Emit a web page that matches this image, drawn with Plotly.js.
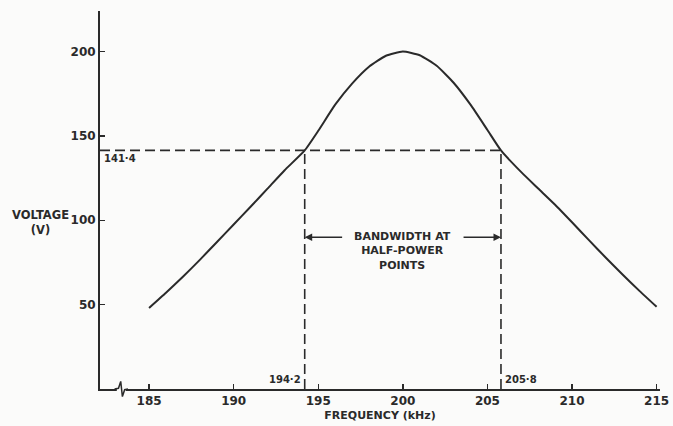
<!DOCTYPE html>
<html><head><meta charset="utf-8">
<script src="https://cdn.plot.ly/plotly-3.0.1.min.js"></script>
<style>html,body{margin:0;padding:0;background:#fbfbfa;}</style>
</head><body>
<div id="chart" style="width:673px;height:426px;"></div>
<script>
// Resonance curve data
const freq = [185, 186, 187, 188, 189, 190, 191, 192, 193, 194.2, 195, 196, 197, 198, 199, 200, 201, 202, 203, 204, 205, 205.8, 207, 208, 209, 210, 211, 212, 213, 214, 215];
const voltage = [48, 57, 66.5, 76.5, 87, 97.5, 108, 118.7, 129.5, 141.4, 153, 168.5, 181, 191, 197.5, 200, 197.8, 191.5, 181.5, 168.5, 153.5, 141.4, 128.5, 118.8, 109.2, 98.8, 88.2, 77.8, 67.7, 58, 48.7];

const halfPowerV = 141.4;
const fLow = 194.2;
const fHigh = 205.8;
const xTicks = [185, 190, 195, 200, 205, 210, 215];
const yTicks = [50, 100, 150, 200];
const xRange = [182.1, 215.2];
const yRange = [0, 224];
const bandLabelV = 90;

const ink = '#2a2a2a';
const fnt = 'DejaVu Sans, sans-serif';
const b = s => '<b>' + s + '</b>';

const traces = [
  {x: freq, y: voltage, mode: 'lines', line: {color: ink, width: 2, shape: 'spline', smoothing: 0.5}, hoverinfo: 'skip'},
  {x: [xRange[0], fHigh], y: [halfPowerV, halfPowerV], mode: 'lines', line: {color: ink, width: 1.6, dash: '10px,5px'}, hoverinfo: 'skip'},
  {x: [fLow, fLow], y: [0, halfPowerV], mode: 'lines', line: {color: ink, width: 1.6, dash: '10px,5px'}, hoverinfo: 'skip'},
  {x: [fHigh, fHigh], y: [0, halfPowerV], mode: 'lines', line: {color: ink, width: 1.6, dash: '10px,5px'}, hoverinfo: 'skip'}
];

const layout = {
  width: 673, height: 426,
  margin: {l: 100, r: 13, t: 11, b: 37},
  paper_bgcolor: '#fbfbfa', plot_bgcolor: '#fbfbfa',
  showlegend: false,
  font: {family: fnt, color: ink, size: 12},
  xaxis: {
    range: xRange, showgrid: false, zeroline: false, showline: true, linecolor: ink, linewidth: 2,
    ticks: 'inside', ticklen: 5, tickwidth: 1.5, tickcolor: ink,
    tickvals: xTicks, ticktext: xTicks.map(v => b(String(v))), tickfont: {family: fnt, size: 12, color: ink},
    title: {text: b('FREQUENCY (kHz)'), font: {family: fnt, size: 11, color: ink}, standoff: 4}
  },
  yaxis: {
    range: yRange, showgrid: false, zeroline: false, showline: true, linecolor: ink, linewidth: 2,
    ticks: 'inside', ticklen: 5, tickwidth: 1.5, tickcolor: ink,
    tickvals: yTicks, ticktext: yTicks.map(v => b(String(v))), tickfont: {family: fnt, size: 12, color: ink}
  },
  shapes: [
    {type: 'rect', xref: 'paper', yref: 'paper', x0: 0.030, x1: 0.046, y0: -0.006, y1: 0.006, fillcolor: '#fbfbfa', line: {width: 0}},
    {type: 'path', xref: 'paper', yref: 'paper', path: 'M 0.026,0 L 0.033,0.002 L 0.037,0.02 L 0.040,-0.02 L 0.044,-0.002 L 0.050,0', line: {color: ink, width: 1.5}}
  ],
  annotations: [
    {xref: 'paper', yref: 'paper', x: -0.107, y: 0.44, xanchor: 'center', yanchor: 'middle', showarrow: false,
     text: b('VOLTAGE') + '<br>' + b('(V)'), font: {family: fnt, size: 11.5, color: ink}},
    {x: xRange[0], y: halfPowerV, xanchor: 'left', yanchor: 'top', xshift: 2, yshift: -1, showarrow: false,
     text: b('141·4'), font: {family: fnt, size: 10, color: ink}},
    {x: fLow, y: 0, xanchor: 'right', yanchor: 'bottom', xshift: -2, yshift: 2, showarrow: false,
     text: b('194·2'), font: {family: fnt, size: 10, color: ink}},
    {x: fHigh, y: 0, xanchor: 'left', yanchor: 'bottom', xshift: 2, yshift: 2, showarrow: false,
     text: b('205·8'), font: {family: fnt, size: 10, color: ink}},
    {x: (fLow + fHigh) / 2, y: bandLabelV, xanchor: 'center', yanchor: 'top', yshift: 9, showarrow: false,
     text: b('BANDWIDTH AT') + '<br>' + b('HALF-POWER') + '<br>' + b('POINTS'), font: {family: fnt, size: 11, color: ink}},
    {x: fLow, y: bandLabelV, ax: 196.5, ay: bandLabelV, axref: 'x', ayref: 'y', text: '', showarrow: true,
     arrowhead: 2, arrowsize: 1, arrowwidth: 1.5, arrowcolor: ink},
    {x: fHigh, y: bandLabelV, ax: 203.5, ay: bandLabelV, axref: 'x', ayref: 'y', text: '', showarrow: true,
     arrowhead: 2, arrowsize: 1, arrowwidth: 1.5, arrowcolor: ink}
  ]
};

Plotly.newPlot('chart', traces, layout, {displayModeBar: false, staticPlot: true});
</script>
</body></html>
